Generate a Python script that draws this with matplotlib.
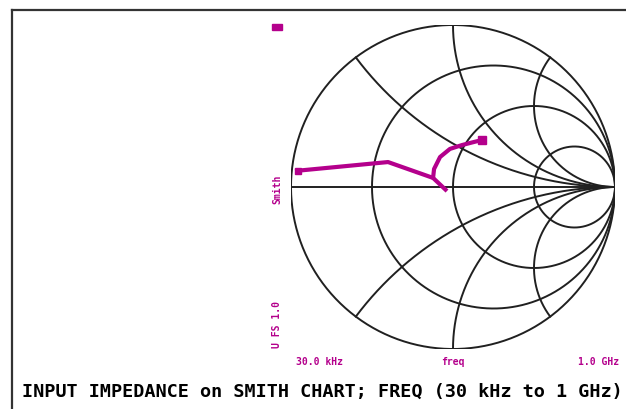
import matplotlib
matplotlib.use('Agg')
import matplotlib.pyplot as plt
import numpy as np

trace_re = [-0.975, -0.401, -0.123, -0.037]
trace_im = [0.099, 0.154, 0.056, -0.025]
# upper branch from the junction to the end marker
branch_re = [-0.123, -0.117, -0.080, -0.019, 0.056, 0.130, 0.179]
branch_im = [0.056, 0.111, 0.185, 0.235, 0.259, 0.278, 0.290]

r_circles = [1/3, 1.0, 3.0]
x_arcs = [0.5, 1.0, 2.0]

start_label = '30.0 kHz'
mid_label = 'freq'
stop_label = '1.0 GHz'
fmt_label = 'Smith'
scale_label = 'U FS 1.0'
title = 'INPUT IMPEDANCE on SMITH CHART; FREQ (30 kHz to 1 GHz)'

magenta = '#b4008c'
grid_col = '#202020'

fig = plt.figure(figsize=(6.26, 4.10), dpi=100)

# frame: left and top lines only
fig.add_artist(plt.Line2D([12/626, 12/626], [0, 1 - 11/410], color='#333333', lw=1.6))
fig.add_artist(plt.Line2D([12/626, 1], [1 - 11/410, 1 - 11/410], color='#333333', lw=1.6))

ax = fig.add_axes([291/626, 60/410, 324/626, 324/410])
ax.set_xlim(-1, 1)
ax.set_ylim(-1, 1)
ax.axis('off')

t = np.linspace(0, 2*np.pi, 600)
ax.plot(np.cos(t), np.sin(t), color=grid_col, lw=1.4)
ax.plot([-1, 1], [0, 0], color=grid_col, lw=1.4)

for r in r_circles:
    c = r / (1 + r)
    rad = 1 / (1 + r)
    ax.plot(c + rad*np.cos(t), rad*np.sin(t), color=grid_col, lw=1.4)

rr = np.concatenate([[0], np.logspace(-3, 3, 800)])
for x in x_arcs:
    for s in (1, -1):
        z = rr + 1j*s*x
        g = (z - 1) / (z + 1)
        ax.plot(g.real, g.imag, color=grid_col, lw=1.4)

ax.plot(trace_re, trace_im, color=magenta, lw=3, solid_capstyle='butt')
ax.plot(branch_re, branch_im, color=magenta, lw=3, solid_capstyle='round')
# markers at the ends
ax.plot(trace_re[0] + 0.02, trace_im[0], marker='s', ms=5, color=magenta)
ax.plot(branch_re[-1], branch_im[-1], marker='s', ms=6, color=magenta)

# small marker at top left
fig.add_artist(plt.Rectangle((272/626, 1 - 31/410), 10/626, 6/410, color=magenta))

lab = dict(color=magenta, fontsize=7, fontweight='bold', family='DejaVu Sans Mono')
fig.text(320/626, 1 - 362/410, start_label, ha='center', va='center', **lab)
fig.text(453/626, 1 - 362/410, mid_label, ha='center', va='center', **lab)
fig.text(599/626, 1 - 362/410, stop_label, ha='center', va='center', **lab)
fig.text(277/626, 1 - 189/410, fmt_label, ha='center', va='center', rotation=90, **lab)
fig.text(277/626, 1 - 324/410, scale_label, ha='center', va='center', rotation=90, **lab)

fig.text(22/626, 1 - 392/410, title, ha='left', va='center', color='black',
         fontsize=13.3, fontweight='bold', family='DejaVu Sans Mono')

fig.savefig('out.png', dpi=100)
